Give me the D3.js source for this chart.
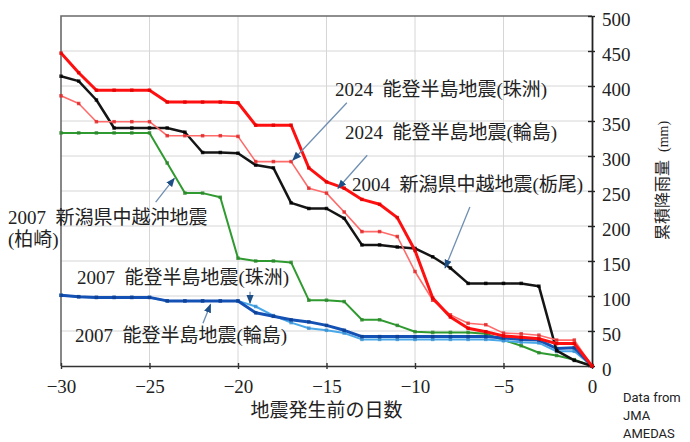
<!DOCTYPE html>
<html>
<head>
<meta charset="utf-8">
<script src="https://cdn.jsdelivr.net/npm/d3@7"></script>
<style>
  html, body { margin: 0; padding: 0; background: #fff; }
  svg { display: block; }
  .lbl { font-family: "Liberation Serif", "DejaVu Serif", "Noto Sans CJK JP", serif; fill: #222; }
</style>
</head>
<body>
<svg id="chart" width="690" height="442"></svg>
<script>
// Days before the earthquake (x) and cumulative rainfall in mm (y)
const days = d3.range(-30, 1);

const noto2024Wajima = [447, 419, 394, 394, 394, 394, 377, 377, 377, 377, 376, 344, 344, 344, 283, 263, 254, 238, 231, 212, 165, 97, 70, 54, 49, 43, 41, 39, 32, 32, 0];
const noto2024Suzu   = [386, 375, 349, 349, 349, 349, 329, 329, 329, 329, 328, 292, 292, 292, 254, 247, 220, 192, 192, 185, 135, 94, 73, 61, 59, 47, 46, 44, 37, 37, 0];
const chuetsu2004Tochio = [414, 407, 380, 340, 340, 340, 340, 334, 305, 305, 304, 287, 283, 233, 225, 225, 211, 173, 173, 170, 168, 156, 140, 118, 118, 118, 118, 114, 22, 8, 0];
const chuetsuoki2007Kashiwazaki = [333, 333, 333, 333, 333, 333, 290, 247, 247, 241, 154, 150, 150, 148, 94, 94, 92, 66, 66, 58, 49, 48, 48, 48, 46, 37, 29, 19, 15, 9, 0];
const noto2007Wajima = [101, 99, 98, 98, 98, 98, 93, 93, 93, 93, 93, 76, 71, 66, 63, 58, 51, 42, 42, 42, 42, 42, 42, 42, 42, 40, 38, 37, 25, 26, 0];
const noto2007Suzu   = [101, 99, 98, 98, 98, 98, 93, 93, 93, 93, 93, 85, 72, 62, 54, 51, 47, 38, 38, 38, 38, 38, 38, 38, 38, 36, 34, 33, 21, 21, 0];

const xTicks = [-30, -25, -20, -15, -10, -5, 0];
const yTicks = [0, 50, 100, 150, 200, 250, 300, 350, 400, 450, 500];

const series = [
  { name: "2007 柏崎", values: chuetsuoki2007Kashiwazaki, color: "#2f9a2f", width: 2, mark: "#2a862a" },
  { name: "2007 珠洲", values: noto2007Suzu, color: "#4aa8e8", width: 2, mark: "#3a8ed0" },
  { name: "2007 輪島", values: noto2007Wajima, color: "#1451b4", width: 3, mark: "#0e3f90" },
  { name: "2004 栃尾", values: chuetsu2004Tochio, color: "#151515", width: 2.5, mark: "#000" },
  { name: "2024 珠洲", values: noto2024Suzu, color: "#ff6a6a", width: 1.6, mark: "#e02020" },
  { name: "2024 輪島", values: noto2024Wajima, color: "#ff1010", width: 3, mark: "#e00000" }
];

// Annotation arrows: tail and tip in data units
const arrows = [
  { tail: [-13.85, 376], tip: [-16.9, 294] },
  { tail: [-12.7, 301], tip: [-14.35, 254] },
  { tail: [-6.9, 227], tip: [-8.3, 140] },
  { tail: [-24.65, 234], tip: [-23.6, 268] },
  { tail: [-19.32, 106], tip: [-19.32, 90] },
  { tail: [-21.98, 61], tip: [-21.55, 88] }
];

const labels = [
  { text: "2024\u2002能登半島地震(珠洲)", x: 335, y: 96 },
  { text: "2024\u2002能登半島地震(輪島)", x: 345, y: 139 },
  { text: "2004\u2002新潟県中越地震(栃尾)", x: 352, y: 191 },
  { text: "2007\u2002新潟県中越沖地震", x: 8, y: 224 },
  { text: "(柏崎)", x: 8, y: 246 },
  { text: "2007\u2002能登半島地震(珠洲)", x: 77, y: 284 },
  { text: "2007\u2002能登半島地震(輪島)", x: 75, y: 342 }
];

const svg = d3.select("#chart");
const plotL = 61, plotR = 592, plotT = 16, plotB = 366;

const x = d3.scaleLinear().domain([-30, 0]).range([plotL, plotR]);
const y = d3.scaleLinear().domain([0, 500]).range([plotB, plotT]);

// grid
const grid = svg.append("g");
grid.selectAll("line.v").data(xTicks.filter(t => t > -30 && t < 0)).join("line")
  .attr("class", "v")
  .attr("x1", d => x(d)).attr("x2", d => x(d)).attr("y1", plotT).attr("y2", plotB)
  .attr("stroke", "#d6d6d6").attr("stroke-width", 1);
grid.selectAll("line.h").data(yTicks.filter(t => t > 0 && t < 500)).join("line")
  .attr("class", "h")
  .attr("x1", plotL).attr("x2", plotR).attr("y1", d => y(d)).attr("y2", d => y(d))
  .attr("stroke", "#d6d6d6").attr("stroke-width", 1);

// frame top and left
svg.append("path")
  .attr("d", `M${plotL},${plotB}V${plotT}H${plotR}`)
  .attr("fill", "none").attr("stroke", "#6a6a6a").attr("stroke-width", 1.6);

// bottom axis
const xAxis = svg.append("g").attr("transform", `translate(0,${plotB})`)
  .call(d3.axisBottom(x).tickValues(xTicks).tickSize(0).tickFormat(d => d < 0 ? "−" + Math.abs(d) : d));
xAxis.select(".domain").attr("stroke", "#333").attr("stroke-width", 1.6);
xAxis.selectAll(".tick text").attr("class", "lbl").attr("dy", 0).attr("y", 27)
  .style("font-size", "19px");
xAxis.selectAll(".tick").append("line").attr("y1", -3).attr("y2", 3).attr("stroke", "#333").attr("stroke-width", 1.4);

// right axis
const yAxis = svg.append("g").attr("transform", `translate(${plotR},0)`)
  .call(d3.axisRight(y).tickValues(yTicks).tickSize(0));
yAxis.select(".domain").attr("stroke", "#222").attr("stroke-width", 1.8);
yAxis.selectAll(".tick text").attr("class", "lbl").attr("x", 10).attr("dy", "0.5em")
  .style("font-size", "19px").attr("text-anchor", "start");
yAxis.selectAll(".tick").append("line").attr("x1", -4).attr("x2", 3).attr("stroke", "#222").attr("stroke-width", 1.4);

// axis titles
svg.append("text").attr("class", "lbl").attr("x", (plotL + plotR) / 2).attr("y", 417)
  .attr("text-anchor", "middle").style("font-size", "19px").text("地震発生前の日数");
const yt = svg.append("text").attr("class", "lbl")
  .attr("transform", "translate(668,240) rotate(-90)").style("font-size", "16px");
yt.append("tspan").text("累積降雨量\u2002");
yt.append("tspan").style("font-size", "14px").text("(mm)");

// source note
const src = svg.append("text").attr("x", 623).attr("y", 402)
  .style("font-family", "Roboto, 'Noto Sans', sans-serif").style("font-size", "13px").attr("fill", "#222");
["Data from", "JMA", "AMEDAS"].forEach((t, i) => src.append("tspan").attr("x", 623).attr("dy", i ? 18 : 0).text(t));

// series lines and markers
const line = d3.line().x((d, i) => x(days[i])).y(d => y(d));
const sg = svg.append("g");
series.forEach(s => {
  sg.append("path").datum(s.values).attr("d", line)
    .attr("fill", "none").attr("stroke", s.color).attr("stroke-width", s.width)
    .attr("stroke-linejoin", "round");
  sg.append("g").selectAll("rect").data(s.values).join("rect")
    .attr("x", (d, i) => x(days[i]) - 1.75).attr("y", d => y(d) - 1.75)
    .attr("width", 3.5).attr("height", 3.5).attr("fill", s.mark).attr("opacity", 0.8);
});

// annotation arrows
svg.append("defs").append("marker").attr("id", "head")
  .attr("viewBox", "0 0 10 10").attr("refX", 9).attr("refY", 5)
  .attr("markerWidth", 7).attr("markerHeight", 7).attr("orient", "auto")
  .append("path").attr("d", "M0,1L10,5L0,9Z").attr("fill", "#1d4f86");
svg.append("g").selectAll("line").data(arrows).join("line")
  .attr("x1", d => x(d.tail[0])).attr("y1", d => y(d.tail[1]))
  .attr("x2", d => x(d.tip[0])).attr("y2", d => y(d.tip[1]))
  .attr("stroke", "#6f8fb2").attr("stroke-width", 1.3).attr("marker-end", "url(#head)");

// labels
svg.append("g").selectAll("text").data(labels).join("text")
  .attr("class", "lbl").attr("x", d => d.x).attr("y", d => d.y)
  .style("font-size", "19px").text(d => d.text);
</script>
</body>
</html>
